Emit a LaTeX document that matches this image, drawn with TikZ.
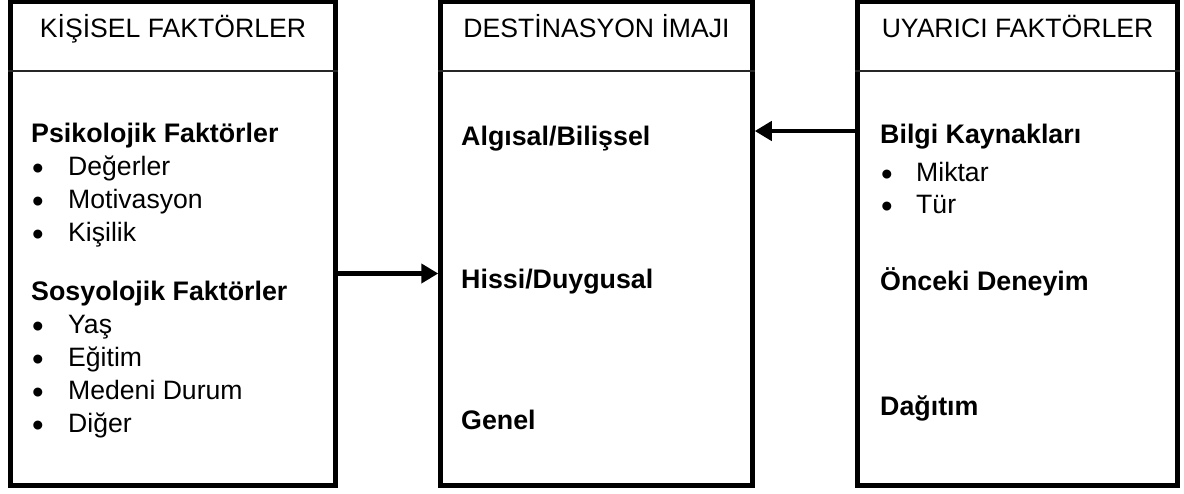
\documentclass[tikz,border=0pt]{standalone}
\usepackage{fontspec}
\setmainfont{Liberation Sans}
\usetikzlibrary{arrows.meta}
\tikzset{
  box/.style={draw=black, line width=4.5pt, rectangle, inner sep=0pt, fill=none},
  divider/.style={draw=black!85, line width=1.6pt},
  hdr/.style={anchor=base, inner sep=0pt, font=\fontsize{26.6}{32}\selectfont},
  bld/.style={anchor=base west, inner sep=0pt, font=\fontsize{26.8}{32}\selectfont\bfseries},
  itm/.style={anchor=base west, inner sep=0pt, font=\fontsize{26.6}{32}\selectfont},
  bul/.style={anchor=base, inner sep=0pt, font=\fontsize{33}{36}\selectfont},
  conn/.style={draw=black, line width=4.5pt, -{Triangle[length=17pt,width=19pt]}}
}
\newcommand{\bulmark}{\smash{•}}
\begin{document}
\begin{tikzpicture}[x=1pt,y=-1pt]
\useasboundingbox (0,0) rectangle (1184,493);
\fill[white] (0,0) rectangle (1184,493);
% boxes
\node[box, minimum width=325pt, minimum height=484pt] (kisisel) at (173,243.5) {};
\node[box, minimum width=312pt, minimum height=484pt] (dest) at (596.5,243.5) {};
\node[box, minimum width=320pt, minimum height=484pt] (uyarici) at (1017.5,243.5) {};
% header dividers
\coordinate (hy) at (0,71);
\draw[divider] (kisisel.west |- hy) -- (kisisel.east |- hy);
\draw[divider] (dest.west |- hy) -- (dest.east |- hy);
\draw[divider] (uyarici.west |- hy) -- (uyarici.east |- hy);
% headers
\node[hdr] (h1) at (173,37) {KİŞİSEL FAKTÖRLER};
\node[hdr] (h2) at (596.5,37) {DESTİNASYON İMAJI};
\node[hdr] (h3) at (1017.5,37) {UYARICI FAKTÖRLER};
% left box contents
\node[bld] (psi) at (31,142) {Psikolojik Faktörler};
\node[bul] (b1) at (38,179.5) {\bulmark}; \node[itm] (t1) at (68,175) {Değerler};
\node[bul] (b2) at (38,212.5) {\bulmark}; \node[itm] (t2) at (68,208) {Motivasyon};
\node[bul] (b3) at (38,245.5) {\bulmark}; \node[itm] (t3) at (68,241) {Kişilik};
\node[bld] (sos) at (31,300) {Sosyolojik Faktörler};
\node[bul] (b4) at (38,337.5) {\bulmark}; \node[itm] (t4) at (68,333) {Yaş};
\node[bul] (b5) at (38,370.5) {\bulmark}; \node[itm] (t5) at (68,366) {Eğitim};
\node[bul] (b6) at (38,403.5) {\bulmark}; \node[itm] (t6) at (68,399) {Medeni Durum};
\node[bul] (b7) at (38,436.5) {\bulmark}; \node[itm] (t7) at (68,432) {Diğer};
% middle box contents
\node[bld] (alg) at (461,145) {Algısal/Bilişsel};
\node[bld] (his) at (461,288) {Hissi/Duygusal};
\node[bld] (gen) at (461,429) {Genel};
% right box contents
\node[bld] (bil) at (880,143) {Bilgi Kaynakları};
\node[bul] (b8) at (887,185.5) {\bulmark}; \node[itm] (t8) at (916,181) {Miktar};
\node[bul] (b9) at (887,217.5) {\bulmark}; \node[itm] (t9) at (916,213) {Tür};
\node[bld] (onc) at (880,290) {Önceki Deneyim};
\node[bld] (dag) at (880,415) {Dağıtım};
% connectors
\coordinate (ay1) at (0,273.5);
\coordinate (ay2) at (0,131);
\draw[conn] (kisisel.east |- ay1) -- (dest.west |- ay1);
\draw[conn] (uyarici.west |- ay2) -- (dest.east |- ay2);
\end{tikzpicture}
\end{document}
